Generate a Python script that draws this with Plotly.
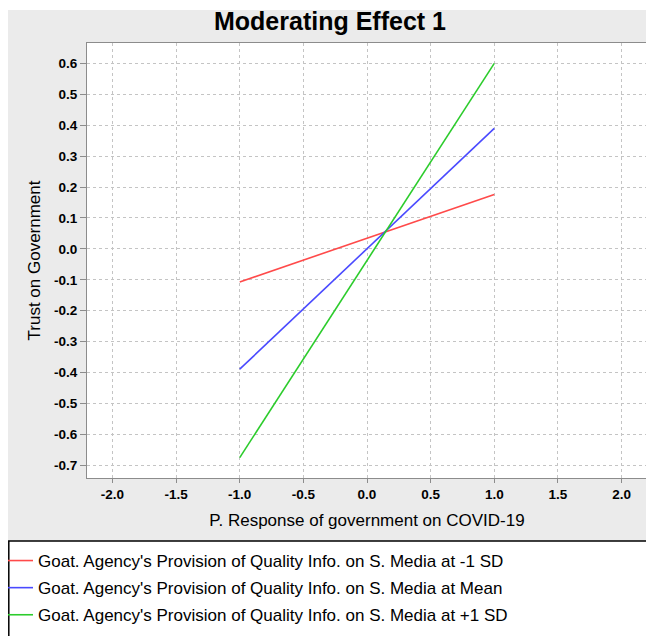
import plotly.graph_objects as go

# ---- data ----
x_vals = [-1.0, 1.0]
low_sd_vals = [-0.107, 0.176]
mean_vals = [-0.389, 0.390]
high_sd_vals = [-0.675, 0.600]
series_names = [
    "Goat. Agency's Provision of Quality Info. on S. Media at -1 SD",
    "Goat. Agency's Provision of Quality Info. on S. Media at Mean",
    "Goat. Agency's Provision of Quality Info. on S. Media at +1 SD",
]
series_colors = ["#ff4a4a", "#4a4aff", "#2ccc2c"]
x_tick_vals = [-2.0, -1.5, -1.0, -0.5, 0.0, 0.5, 1.0, 1.5, 2.0]
x_tick_text = ["-2.0", "-1.5", "-1.0", "-0.5", "0.0", "0.5", "1.0", "1.5", "2.0"]
y_tick_vals = [0.6, 0.5, 0.4, 0.3, 0.2, 0.1, 0.0, -0.1, -0.2, -0.3, -0.4, -0.5, -0.6, -0.7]
y_tick_text = ["0.6", "0.5", "0.4", "0.3", "0.2", "0.1", "0.0", "-0.1", "-0.2", "-0.3",
               "-0.4", "-0.5", "-0.6", "-0.7"]

# The page adds an 8px body margin, so the figure is drawn 8px smaller
OFF = 8
PAGE_W, PAGE_H = 654, 636
W, H = PAGE_W - OFF, PAGE_H - OFF
# plot area in page pixels: x 87..647, y 43..478
ML, MT = 87 - OFF, 43 - OFF
MR = PAGE_W - 647
MB = PAGE_H - 478
PW, PH = W - ML - MR, H - MT - MB


def px_x(p):  # page pixel -> paper x
    return (p - OFF - ML) / PW


def px_y(p):  # page pixel -> paper y
    return (H - MB - (p - OFF)) / PH


FONT = "Liberation Sans, Arial, sans-serif"

fig = go.Figure()
for i, (vals, name, col) in enumerate(zip([low_sd_vals, mean_vals, high_sd_vals], series_names, series_colors)):
    fig.add_trace(go.Scatter(x=x_vals, y=vals, mode="lines", name=name,
                             legendgroup=f"g{i}",
                             line=dict(color=col, width=1.6)))

shapes = [
    # thin white strip at the top of the grey panel
    dict(type="rect", xref="paper", yref="paper", x0=px_x(0), x1=px_x(PAGE_W + 5), y0=px_y(10), y1=px_y(0),
         fillcolor="white", line=dict(width=0), layer="below"),
    # legend box
    dict(type="rect", xref="paper", yref="paper", x0=px_x(OFF + 0.8), x1=px_x(PAGE_W + 10),
         y0=px_y(PAGE_H + 10), y1=px_y(541),
         fillcolor="white", line=dict(color="black", width=1.5), layer="below"),
]

axis_common = dict(
    showline=True, linecolor="#8c8c8c", linewidth=1, mirror=True,
    showgrid=True, gridcolor="#c4c4c4", griddash="dot", gridwidth=1,
    zeroline=False, ticks="outside", tickcolor="#8c8c8c", automargin=False,
    tickfont=dict(family=FONT, size=13.5, color="black", weight="bold"),
)

fig.update_layout(
    width=W, height=H, autosize=False,
    margin=dict(l=ML, r=MR, t=MT, b=MB, pad=0, autoexpand=False),
    paper_bgcolor="#ebebeb", plot_bgcolor="white",
    font=dict(family=FONT, color="black"),
    title=dict(text="Moderating Effect 1", x=(330 - OFF) / W, xanchor="center", xref="container",
               y=1 - (21.5 - OFF) / H, yanchor="middle", yref="container",
               font=dict(family=FONT, size=25, color="black", weight="bold")),
    xaxis=dict(range=[-2.2, 2.2], tickvals=x_tick_vals, ticktext=x_tick_text, ticklen=4,
               title=dict(text="P. Response of government on COVID-19", standoff=12,
                          font=dict(family=FONT, size=17, color="black")),
               **axis_common),
    yaxis=dict(range=[-0.741, 0.666], tickvals=y_tick_vals, ticktext=y_tick_text, ticklen=6,
               title=dict(text="Trust on Government", standoff=9,
                          font=dict(family=FONT, size=17, color="black")),
               **axis_common),
    legend=dict(x=px_x(-2), xanchor="left", y=px_y(543), yanchor="top",
                bgcolor="rgba(0,0,0,0)", borderwidth=0, tracegroupgap=2,
                font=dict(family=FONT, size=17, color="black")),
    shapes=shapes,
    showlegend=True,
)

fig.write_html("out.html")
